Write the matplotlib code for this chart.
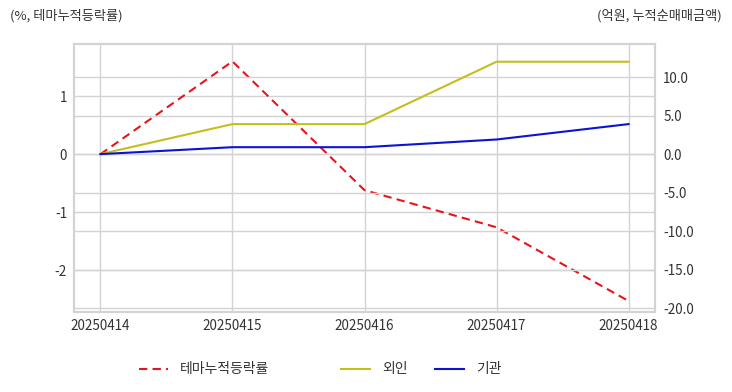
import matplotlib
matplotlib.use("Agg")
import matplotlib.pyplot as plt
from matplotlib.lines import Line2D

plt.rcParams['font.family'] = ['Noto Sans CJK KR', 'DejaVu Sans']

dates = ["20250414", "20250415", "20250416", "20250417", "20250418"]
theme_rate = [0.0, 1.60, -0.62, -1.26, -2.53]
foreign = [0.0, 3.9, 3.9, 12.0, 12.0]
institution = [0.0, 0.9, 0.9, 1.9, 3.9]

left_ticks = [-2, -1, 0, 1]
right_ticks = [-20, -15, -10, -5, 0, 5, 10]

W, H = 732, 392
fig = plt.figure(figsize=(W/100, H/100), dpi=100)
ax = fig.add_axes([74/W, 1-312/H, (655-74)/W, (312-44)/H])
ax2 = ax.twinx()

x = list(range(len(dates)))
grid_c = '#d3d3d3'
txt_c = '#333333'
red_c, olive_c, blue_c = '#e8141b', '#c3bf1d', '#0a14d2'
dash = (0, (4, 2.5))

ax.plot(x, theme_rate, color=red_c, ls=dash, lw=1.5, zorder=3)
ax2.plot(x, foreign, color=olive_c, lw=1.5)
ax2.plot(x, institution, color=blue_c, lw=1.5)

ax.set_xlim(-0.2, 4.2)
ax.set_ylim(-2.72, 1.90)
ax2.set_ylim(-20.5, 14.3)

ax.set_xticks(x)
ax.set_xticklabels(dates)
ax.set_yticks(left_ticks)
ax.set_yticklabels([str(v) for v in left_ticks])
ax2.set_yticks(right_ticks)
ax2.set_yticklabels([f"{v:.1f}" for v in right_ticks])

ax.grid(True, color=grid_c, lw=1)
ax2.grid(True, axis='y', color=grid_c, lw=1)
ax.set_axisbelow(True)
ax2.set_axisbelow(True)

for a in (ax, ax2):
    for s in a.spines.values():
        s.set_color(grid_c)
        s.set_linewidth(1.5)
    a.tick_params(length=0, labelsize=9.7, colors=txt_c)
ax.tick_params(axis='x', pad=5)
ax.tick_params(axis='y', pad=5)
ax2.tick_params(axis='y', pad=6)

fig.text(10/W, 1-16/H, "(%, 테마누적등락률)", fontsize=9.5, color=txt_c, va='center', ha='left')
fig.text(722/W, 1-16/H, "(억원, 누적순매매금액)", fontsize=9.5, color=txt_c, va='center', ha='right')

# legend drawn manually
ly = 1-369/H
items = [(139, red_c, dash, "테마누적등락률"), (341, olive_c, '-', "외인"), (435, blue_c, '-', "기관")]
for x0, c, ls, lab in items:
    fig.add_artist(Line2D([x0/W, (x0+29)/W], [ly, ly], color=c, ls=ls, lw=1.5,
                          transform=fig.transFigure))
    fig.text((x0+41)/W, ly, lab, fontsize=10, color=txt_c, va='center', ha='left')

fig.savefig("out.png", dpi=100)
